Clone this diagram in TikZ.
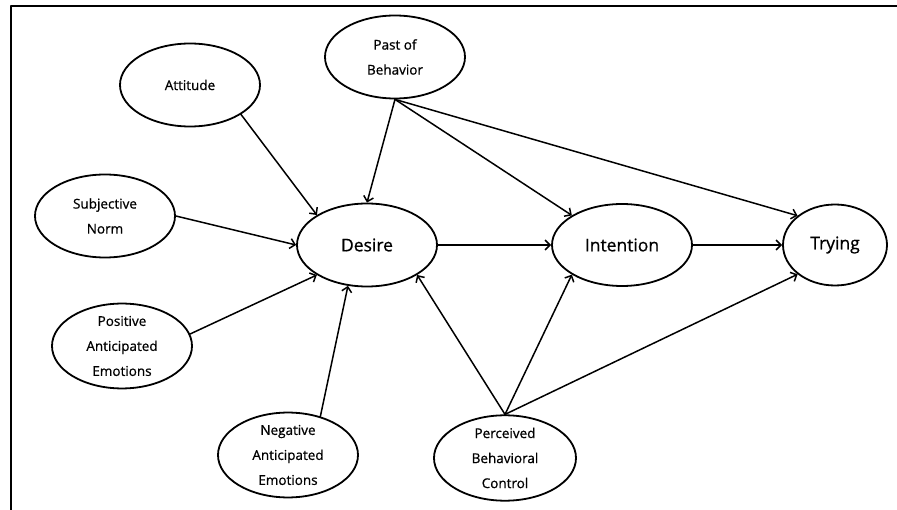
\documentclass[tikz,border=0pt]{standalone}
\usepackage{fontspec}
\setmainfont{Open Sans}
\newfontfamily\varfont{Open Sans}[FakeBold=0.8]
\usetikzlibrary{shapes.geometric, arrows.meta}
\begin{document}
\begin{tikzpicture}[line join=round, line cap=round, >={Straight Barb[length=5pt, width=10pt]}, x=1pt, y=-1pt,
	var/.style={draw, ellipse, line width=1.8pt, minimum width=140pt, minimum height=83pt, inner sep=0pt, align=center, font=\varfont\fontsize{13.5}{25}\selectfont},
	main/.style={var, font=\varfont\fontsize{17.5}{20}\selectfont},
	path/.style={->, line width=1.5pt}]
			\useasboundingbox (0,0) rectangle (897,510);
			\draw[line width=1.3pt] (11,510) -- (11,6) -- (897,6);
			
			\node[var] (ATT) at (190,85) {Attitude};
			\node[var] (PB) at (395,57) {Past of\\Behavior};
			\node[var] (SN) at (105,216) {Subjective\\Norm};
			\node[var] (PAE) at (122,346) {Positive\\Anticipated\\Emotions};
			\node[var] (NAE) at (288,455) {Negative\\Anticipated\\Emotions};
			\node[var, minimum width=142pt] (PBC) at (505,458) {Perceived\\Behavioral\\Control};
			
			\node[main] (DES) at (367,245) {Desire};
			\node[main, minimum height=82pt] (INT) at (622,245) {Intention};
			\node[main, minimum width=104pt, minimum height=81pt] (TRY) at (835,245) {Trying};
			
			\draw[path] (ATT.-30) -- (DES.north west);
			\draw[path] (SN.east) -- (DES.west);
			\draw[path] (PAE.10) -- (DES.south west);
			\draw[path] (NAE.50) -- (DES.-115);
			
			\draw[path] (PB.south) -- (DES.north);
			\draw[path] (PB.south) -- (INT.north west);
			\draw[path] (PB.south) -- (TRY.north west);
			
			\draw[path] (PBC.north) -- (DES.south east);
			\draw[path] (PBC.north) -- (INT.south west);
			\draw[path] (PBC.north) -- (TRY.south west);
			
			\draw[path] (DES) -- (INT);
			\draw[path] (INT) -- (TRY);
		\end{tikzpicture}
\end{document}
